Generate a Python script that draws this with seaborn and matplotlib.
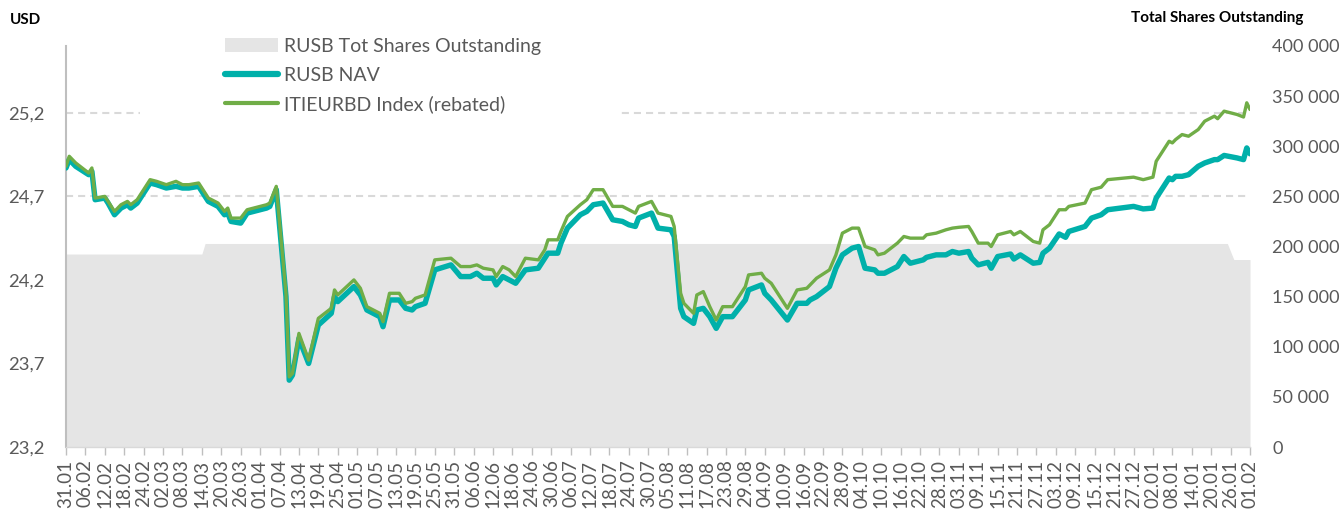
import numpy as np
import pandas as pd
import matplotlib
matplotlib.use("Agg")
import matplotlib.pyplot as plt
from matplotlib.ticker import FuncFormatter, FixedLocator
from matplotlib.patches import Patch, Rectangle
from matplotlib.lines import Line2D
import seaborn as sns

sns.set_theme(style="white")
plt.rcParams["font.family"] = ["Lato", "DejaVu Sans"]

# ---------------- data ----------------
START = pd.Timestamp("2023-01-31")
END = pd.Timestamp("2024-02-01")

day_offsets = [
    0, 1, 3, 7, 8, 9, 12, 13, 15, 17, 19, 20, 22, 26, 28, 31, 34, 36, 38, 41,
    44, 47, 49, 50, 51, 54, 56, 62, 63, 65, 68, 69, 70, 72, 75, 78, 82, 83, 84, 89,
    91, 93, 97, 98, 100, 103, 105, 107, 108, 111, 114, 119, 122, 125, 127, 129, 132, 133, 135, 137,
    139, 142, 146, 148, 149, 152, 153, 155, 159, 161, 163, 166, 169, 172, 174, 176, 177, 181, 183, 187,
    188, 190, 191, 194, 195, 197, 199, 201, 203, 206, 210, 211, 215, 216, 218, 223, 226, 229, 230, 232,
    236, 238, 240, 243, 245, 247, 250, 251, 253, 255, 257, 259, 261, 265, 266, 269, 272, 274, 276, 279,
    280, 282, 285, 286, 288, 292, 293, 295, 299, 301, 302, 304, 307, 309, 310, 315, 317, 320, 322, 330,
    333, 336, 337, 341, 342, 343, 345, 347, 350, 352, 355, 356, 358, 362, 364, 365, 366,
]

index_values = [
    24.88, 24.94, 24.90, 24.84, 24.87, 24.69, 24.70, 24.67, 24.61, 24.65, 24.67, 24.65, 24.68, 24.80, 24.79, 24.77, 24.79, 24.77, 24.77, 24.78,
    24.69, 24.66, 24.61, 24.63, 24.57, 24.57, 24.62, 24.65, 24.66, 24.76, 24.12, 23.62, 23.64, 23.88, 23.72, 23.97, 24.03, 24.14, 24.11, 24.20,
    24.15, 24.04, 24.00, 23.95, 24.12, 24.12, 24.06, 24.07, 24.09, 24.11, 24.32, 24.33, 24.28, 24.28, 24.29, 24.27, 24.26, 24.22, 24.28, 24.26,
    24.22, 24.33, 24.32, 24.38, 24.44, 24.44, 24.49, 24.58, 24.65, 24.68, 24.74, 24.74, 24.64, 24.64, 24.62, 24.60, 24.64, 24.67, 24.60, 24.58,
    24.52, 24.12, 24.06, 24.00, 24.11, 24.13, 24.04, 23.96, 24.04, 24.04, 24.16, 24.23, 24.24, 24.21, 24.18, 24.03, 24.14, 24.15, 24.17, 24.21,
    24.26, 24.35, 24.48, 24.51, 24.51, 24.40, 24.38, 24.35, 24.36, 24.39, 24.42, 24.46, 24.45, 24.45, 24.47, 24.48, 24.50, 24.51, 24.515, 24.52,
    24.49, 24.42, 24.42, 24.40, 24.47, 24.49, 24.47, 24.49, 24.43, 24.42, 24.50, 24.53, 24.62, 24.62, 24.64, 24.66, 24.74, 24.755, 24.80, 24.815,
    24.80, 24.815, 24.91, 25.03, 25.02, 25.04, 25.07, 25.06, 25.10, 25.15, 25.18, 25.165, 25.21, 25.19, 25.175, 25.26, 25.22,
]

nav_values = [
    24.87, 24.92, 24.88, 24.83, 24.85, 24.68, 24.69, 24.66, 24.59, 24.63, 24.65, 24.63, 24.66, 24.78, 24.77, 24.75, 24.76, 24.75, 24.75, 24.76,
    24.67, 24.64, 24.59, 24.60, 24.55, 24.54, 24.60, 24.63, 24.64, 24.74, 24.10, 23.60, 23.63, 23.85, 23.70, 23.93, 24.00, 24.10, 24.07, 24.16,
    24.11, 24.02, 23.98, 23.92, 24.08, 24.08, 24.03, 24.02, 24.04, 24.06, 24.26, 24.29, 24.22, 24.22, 24.24, 24.21, 24.21, 24.17, 24.22, 24.20,
    24.18, 24.26, 24.27, 24.33, 24.36, 24.36, 24.42, 24.51, 24.59, 24.61, 24.65, 24.66, 24.56, 24.55, 24.53, 24.52, 24.57, 24.60, 24.51, 24.50,
    24.46, 24.03, 23.98, 23.94, 24.02, 24.03, 23.98, 23.91, 23.98, 23.98, 24.08, 24.14, 24.17, 24.12, 24.08, 23.96, 24.06, 24.06, 24.08, 24.10,
    24.16, 24.27, 24.35, 24.39, 24.40, 24.27, 24.26, 24.24, 24.24, 24.26, 24.28, 24.34, 24.30, 24.32, 24.335, 24.35, 24.35, 24.37, 24.36, 24.37,
    24.33, 24.29, 24.305, 24.27, 24.34, 24.355, 24.325, 24.35, 24.30, 24.305, 24.36, 24.39, 24.475, 24.455, 24.49, 24.52, 24.57, 24.59, 24.62, 24.64,
    24.625, 24.63, 24.69, 24.81, 24.80, 24.82, 24.82, 24.83, 24.88, 24.90, 24.92, 24.92, 24.945, 24.93, 24.92, 24.99, 24.955,
]

share_day_offsets = [0, 42, 43, 359, 361, 366]
shares_values = [192500, 192500, 203000, 203000, 187000, 187000]

usd_ticks = [23.2, 23.7, 24.2, 24.7, 25.2]
share_ticks = [0, 50000, 100000, 150000, 200000, 250000, 300000, 350000, 400000]

label_shares = "RUSB Tot Shares Outstanding"
label_nav = "RUSB NAV"
label_index = "ITIEURBD Index (rebated)"

# ---------------- styling ----------------
TEAL = "#00B0AA"
GREEN = "#70AD47"
FILL = "#E5E5E5"
GRID = "#D9D9D9"
TXT = "#595959"

dates = START + pd.to_timedelta(day_offsets, unit="D")
share_dates = START + pd.to_timedelta(share_day_offsets, unit="D")
df = pd.DataFrame({"date": dates, "nav": nav_values, "index": index_values})

W, H = 1343, 509
fig = plt.figure(figsize=(W / 100, H / 100), dpi=100)
L, R, B, T = 66, 1250, 447, 46
rect = [L / W, 1 - B / H, (R - L) / W, (B - T) / H]

ax_usd = fig.add_axes(rect, zorder=1)
ax_sh = fig.add_axes(rect, zorder=2, sharex=ax_usd)
ax_ln = fig.add_axes(rect, zorder=3, sharex=ax_usd, sharey=ax_usd)
for a in (ax_sh, ax_ln):
    a.patch.set_visible(False)

# USD axis (labels + grid)
ax_usd.set_ylim(23.2, 25.6)
ax_usd.yaxis.set_major_locator(FixedLocator(usd_ticks))
ax_usd.yaxis.set_major_formatter(FuncFormatter(lambda v, p: f"{v:.1f}".replace(".", ",")))
ax_usd.grid(axis="y", color=GRID, lw=1.5, linestyle=(0, (3.4, 2.4)))
ax_usd.grid(axis="x", visible=False)
for s in ax_usd.spines.values():
    s.set_visible(False)
ax_usd.tick_params(axis="y", length=0, pad=15.5, labelsize=13.3, labelcolor=TXT)
xt = pd.date_range(START, END, freq="6D")
ax_usd.set_xticks(xt)
ax_usd.set_xticklabels([d.strftime("%d.%m") for d in xt], rotation=90)
ax_usd.tick_params(axis="x", bottom=True, length=6, width=1, color="#BFBFBF",
                   pad=3, labelsize=13.5, labelcolor=TXT)
ax_usd.set_xlim(START, END)
ax_usd.set_xlabel("")
ax_usd.set_ylabel("")

# Shares axis (area)
ax_sh.fill_between(share_dates, shares_values, 0, color=FILL, lw=0, zorder=2)
ax_sh.set_ylim(0, 400000)
ax_sh.yaxis.tick_right()
ax_sh.yaxis.set_major_locator(FixedLocator(share_ticks))
ax_sh.yaxis.set_major_formatter(FuncFormatter(lambda v, p: f"{int(v):,}".replace(",", " ")))
ax_sh.tick_params(axis="y", right=True, left=False, length=0, pad=16, labelsize=13.1, labelcolor=TXT)
ax_sh.tick_params(axis="x", bottom=False, labelbottom=False)
for s in ax_sh.spines.values():
    s.set_visible(False)
# white legend background box over the grid
ax_sh.add_artist(Rectangle((140 / W, 1 - 125 / H), (617 - 140) / W, 95 / H,
                           transform=fig.transFigure, facecolor="white",
                           edgecolor="none", zorder=5, clip_on=False))

# Lines
sns.lineplot(data=df, x="date", y="nav", ax=ax_ln, color=TEAL, lw=3.9,
             solid_joinstyle="round", solid_capstyle="round", zorder=3)
sns.lineplot(data=df, x="date", y="index", ax=ax_ln, color=GREEN, lw=2.4,
             solid_joinstyle="round", solid_capstyle="round", zorder=4)
ax_ln.set_xlim(START, END)
ax_ln.set_ylim(23.2, 25.6)
ax_ln.set_xlabel("")
ax_ln.set_ylabel("")
ax_ln.tick_params(left=False, bottom=False, labelleft=False, labelbottom=False)
for k, s in ax_ln.spines.items():
    s.set_visible(k in ("left", "bottom"))
ax_ln.spines["left"].set_color("#BFBFBF")
ax_ln.spines["left"].set_linewidth(1.5)
ax_ln.spines["bottom"].set_color("#D9D9D9")
ax_ln.spines["bottom"].set_linewidth(1)

handles = [
    Patch(facecolor=FILL, edgecolor="none", label=label_shares),
    Line2D([], [], color=TEAL, lw=4.5, solid_capstyle="round", label=label_nav),
    Line2D([], [], color=GREEN, lw=3, solid_capstyle="round", label=label_index),
]
leg = ax_ln.legend(handles=handles, loc="upper left",
                   bbox_to_anchor=(225 / W, 1 - 38 / H), bbox_transform=fig.transFigure,
                   frameon=False, fontsize=14, handlelength=2.75, handletextpad=0.3,
                   labelspacing=0.6, borderpad=0, borderaxespad=0)
for t in leg.get_texts():
    t.set_color(TXT)

fig.text(10 / W, 1 - 20 / H, "USD", fontsize=11, fontweight="bold", color="black",
         ha="left", va="center")
fig.text(1303 / W, 1 - 18 / H, "Total Shares Outstanding", fontsize=11,
         fontweight="bold", color="black", ha="right", va="center")

fig.savefig("out.png", dpi=100)
